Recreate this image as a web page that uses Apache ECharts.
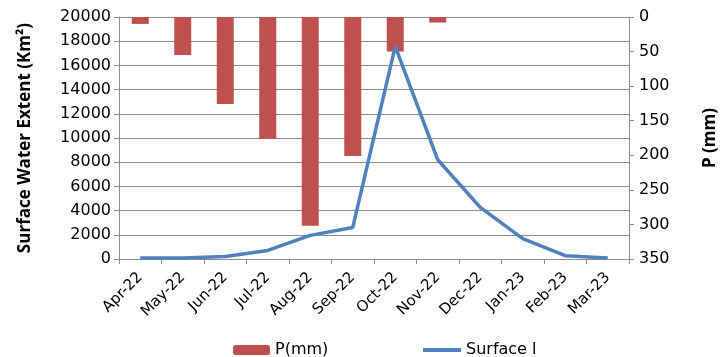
<!DOCTYPE html>
<html><head><meta charset="utf-8">
<script src="https://cdn.jsdelivr.net/npm/echarts@6/dist/echarts.min.js"></script>
<style>html,body{margin:0;padding:0;background:#fff}#c{width:727px;height:357px}</style>
</head><body><div id="c"></div>
<script>
const categories = ['Apr-22','May-22','Jun-22','Jul-22','Aug-22','Sep-22','Oct-22','Nov-22','Dec-22','Jan-23','Feb-23','Mar-23'];
const precip = [10, 55, 126, 176, 302, 201, 50, 8, 0, 0, 0, 0];
const surface = [80, 80, 200, 710, 1950, 2610, 17570, 8200, 4270, 1680, 270, 80];
const leftTicks = {min: 0, max: 20000, interval: 2000};
const rightTicks = {min: 0, max: 350, interval: 50};

const FONT = 'DejaVu Sans';
const chart = echarts.init(document.getElementById('c'));
chart.setOption({
  animation: false,
  grid: {left: 119, right: 90, top: 17, bottom: 98},
  legend: [
    {data: ['P(mm)'], left: 228, top: 337, itemWidth: 37, itemHeight: 10, itemGap: 5,
     textStyle: {fontFamily: FONT, fontSize: 16, lineHeight: 16, color: '#000'}},
    {data: [{name: 'Surface l', icon: 'rect'}], left: 418, top: 337, itemWidth: 38, itemHeight: 4,
     textStyle: {fontFamily: FONT, fontSize: 16, lineHeight: 16, color: '#000'}}
  ],
  xAxis: {
    type: 'category', data: categories, boundaryGap: true,
    axisLine: {lineStyle: {color: '#8c8c8c'}},
    axisTick: {show: true, length: 5, lineStyle: {color: '#8c8c8c'}},
    axisLabel: {rotate: 45, fontFamily: FONT, fontSize: 15, color: '#000', margin: 16, interval: 0}
  },
  yAxis: [
    {type: 'value', min: leftTicks.min, max: leftTicks.max, interval: leftTicks.interval,
     name: 'Surface Water Extent (Km²)', nameLocation: 'middle', nameGap: 85, nameRotate: 90,
     nameTextStyle: {fontFamily: 'Open Sans', fontWeight: 'bold', fontSize: 17, color: '#000'},
     axisLine: {show: true, lineStyle: {color: '#8c8c8c'}},
     axisTick: {show: true, length: 5, lineStyle: {color: '#8c8c8c'}},
     axisLabel: {fontFamily: FONT, fontSize: 16, color: '#000', margin: 8, formatter: v => String(v)},
     splitLine: {lineStyle: {color: '#8c8c8c', width: 1}}},
    {type: 'value', min: rightTicks.min, max: rightTicks.max, interval: rightTicks.interval, inverse: true,
     name: 'P (mm)', nameLocation: 'middle', nameGap: 73, nameRotate: 90,
     nameTextStyle: {fontFamily: 'Open Sans', fontWeight: 'bold', fontSize: 17, color: '#000'},
     axisLine: {show: true, lineStyle: {color: '#8c8c8c'}},
     axisTick: {show: true, length: 5, lineStyle: {color: '#8c8c8c'}},
     axisLabel: {fontFamily: FONT, fontSize: 16, color: '#000', margin: 10, formatter: v => String(v)},
     splitLine: {show: false}}
  ],
  series: [
    {name: 'P(mm)', type: 'bar', yAxisIndex: 1, data: precip, barWidth: 17,
     itemStyle: {color: '#C0504D'}},
    {name: 'Surface l', type: 'line', yAxisIndex: 0, data: surface, symbol: 'none', smooth: false,
     lineStyle: {color: '#4F81BD', width: 3.5}, itemStyle: {color: '#4F81BD'}}
  ]
});
</script></body></html>
